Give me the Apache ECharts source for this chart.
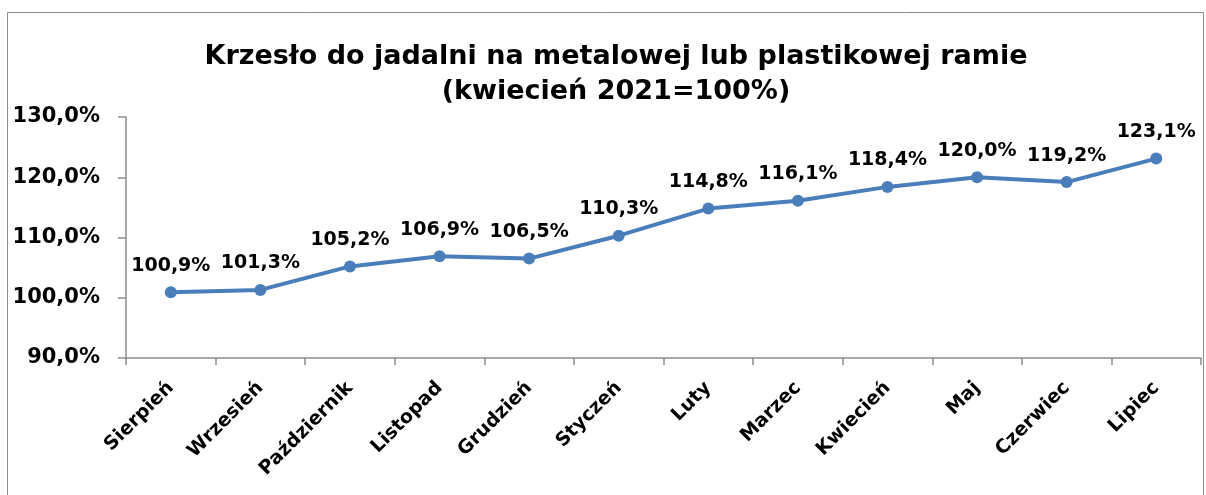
<!DOCTYPE html>
<html><head><meta charset="utf-8">
<script src="https://cdn.jsdelivr.net/npm/echarts@6/dist/echarts.min.js"></script>
<style>html,body{margin:0;padding:0;background:#fff}#c{width:1206px;height:495px}</style>
</head><body><div id="c"></div>
<script>
const titleText = "Krzesło do jadalni na metalowej lub plastikowej ramie\n(kwiecień 2021=100%)";
const categories = ["Sierpień","Wrzesień","Październik","Listopad","Grudzień","Styczeń","Luty","Marzec","Kwiecień","Maj","Czerwiec","Lipiec"];
const values = [100.9,101.3,105.2,106.9,106.5,110.3,114.8,116.1,118.4,120.0,119.2,123.1];
const FONT = "DejaVu Sans";
const fmt = v => v.toFixed(1).replace('.', ',') + '%';
const chart = echarts.init(document.getElementById('c'));
chart.setOption({
  animation:false,
  textStyle:{fontFamily:FONT},
  graphic:[{type:'rect',shape:{x:7.5,y:12.5,width:1196,height:520},style:{fill:'none',stroke:'#8c8c8c',lineWidth:1},silent:true}],
  title:{text:titleText,left:611,textAlign:'center',top:34,textStyle:{fontFamily:FONT,fontWeight:'bold',fontSize:27,lineHeight:35,color:'#000'}},
  grid:{left:126,right:5,top:117,bottom:137,containLabel:false},
  xAxis:{type:'category',data:categories,boundaryGap:true,
    axisLine:{lineStyle:{color:'#8c8c8c',width:1.5}},
    axisTick:{show:true,length:7,lineStyle:{color:'#8c8c8c',width:1.5}},
    axisLabel:{rotate:45,interval:0,margin:27,fontFamily:FONT,fontWeight:'bold',fontSize:19,color:'#000'}},
  yAxis:{type:'value',min:90,max:130,interval:10,
    axisLine:{show:true,lineStyle:{color:'#8c8c8c',width:1.5}},
    axisTick:{show:true,length:8,lineStyle:{color:'#8c8c8c',width:1.5}},
    splitLine:{show:false},
    axisLabel:{margin:26,fontFamily:FONT,fontWeight:'bold',fontSize:21,color:'#000',formatter:v=>fmt(v)}},
  series:[{type:'line',data:values,symbol:'circle',symbolSize:12,
    lineStyle:{color:'#4a7ebb',width:4},itemStyle:{color:'#4a7ebb'},
    label:{show:true,position:'top',distance:11,fontFamily:FONT,fontWeight:'bold',fontSize:19,color:'#000',formatter:p=>fmt(p.value)}}]
});
</script></body></html>
